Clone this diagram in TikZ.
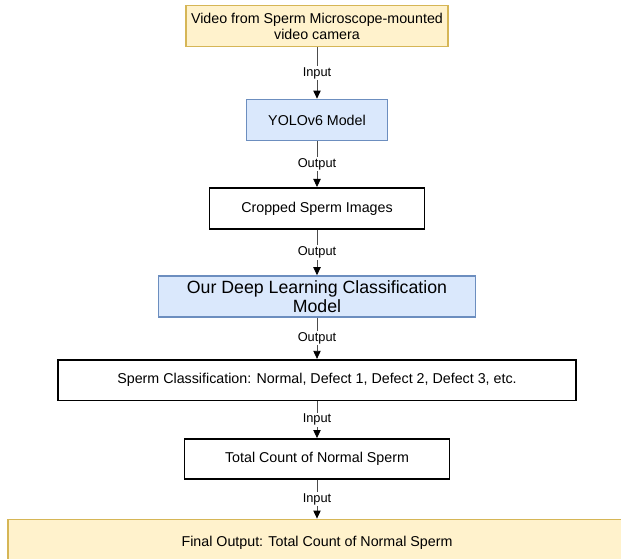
\documentclass[tikz,border=0pt]{standalone}
\usepackage{fontspec}
\setmainfont{Liberation Sans}
\usetikzlibrary{arrows.meta, positioning}
\definecolor{noteyellow}{HTML}{FFF2CC}
\definecolor{noteline}{HTML}{D6B656}
\definecolor{modelblue}{HTML}{DAE8FC}
\definecolor{modelline}{HTML}{6C8EBF}
\tikzset{
  yellowbox/.style={draw=noteline, line width=1pt, fill=noteyellow, minimum height=31pt, inner sep=0pt, align=center, font=\fontsize{10.7}{12}\selectfont},
  bluebox/.style={draw=modelline, line width=1pt, fill=modelblue, minimum height=31pt, inner sep=0pt, align=center, font=\fontsize{10.7}{12}\selectfont},
  sq/.style={draw, line width=1.4pt, fill=white, minimum height=30pt, inner sep=0pt, align=center, font=\fontsize{10.7}{12}\selectfont},
  arr/.style={-{Triangle[length=6pt, width=5.5pt, color=black]}, draw=black!70, line width=0.6pt},
  lbl/.style={fill=white, inner sep=1pt, font=\fontsize{9.6}{11}\selectfont},
}

\begin{document}
\begin{tikzpicture}
    \useasboundingbox (0,0) rectangle (465.75pt,-419.25pt);
    \node[yellowbox, minimum width=196.5pt] (video) at (237.75pt,-19.5pt) {Video from Sperm Microscope-mounted\\video camera};
    \node[bluebox, minimum width=105.75pt, below=38.5pt of video] (yolo) {YOLOv6 Model};
    \node[sq, minimum width=161.25pt, minimum height=30.75pt, below=34.25pt of yolo] (crop) {Cropped Sperm Images};
    \node[bluebox, minimum width=237.75pt, minimum height=30.75pt, font=\fontsize{13.3}{14}\selectfont, below=34pt of crop] (model) {Our Deep Learning Classification\\Model};
    \node[sq, minimum width=388.5pt, minimum height=30.5pt, below=31pt of model] (classes) {Sperm Classification: Normal, Defect 1, Defect 2, Defect 3, etc.};
    \node[sq, minimum width=198.75pt, minimum height=29.75pt, below=27.5pt of classes] (count) {Total Count of Normal Sperm};
    \node[yellowbox, minimum width=463.5pt, minimum height=35pt, below=29.25pt of count] (final) {Final Output: Total Count of Normal Sperm};
    \draw[arr] (video) -- node[lbl] {Input} (yolo);
    \draw[arr] (yolo) -- node[lbl] {Output} (crop);
    \draw[arr] (crop) -- node[lbl] {Output} (model);
    \draw[arr] (model) -- node[lbl] {Output} (classes);
    \draw[arr] (classes) -- node[lbl] {Input} (count);
    \draw[arr] (count) -- node[lbl] {Input} (final);
  \end{tikzpicture}
\end{document}
